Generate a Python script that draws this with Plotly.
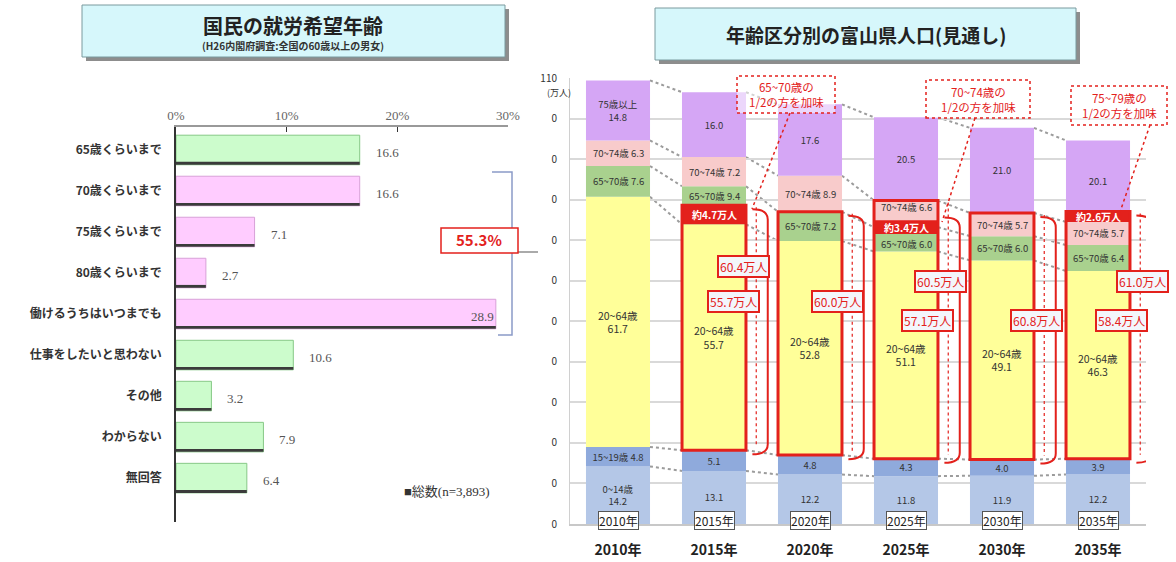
import plotly.graph_objects as go

W, H = 1176, 562

# ---------------- left panel: desired working age (national survey) ----------------
answers = ["65歳くらいまで", "70歳くらいまで", "75歳くらいまで", "80歳くらいまで",
           "働けるうちはいつまでも", "仕事をしたいと思わない", "その他", "わからない", "無回答"]
shares = [16.6, 16.6, 7.1, 2.7, 28.9, 10.6, 3.2, 7.9, 6.4]
pct_ticks = [0, 10, 20, 30]
bracket_total = 55.3
sample_note = "■総数(n=3,893)"

# ---------------- right panel: Toyama population by age group ----------------
years = ["2010年", "2015年", "2020年", "2025年", "2030年", "2035年"]
age_0_14 = [14.2, 13.1, 12.2, 11.8, 11.9, 12.2]
age_15_19 = [4.8, 5.1, 4.8, 4.3, 4.0, 3.9]
age_20_64 = [61.7, 55.7, 52.8, 51.1, 49.1, 46.3]
age_65_69 = [7.6, 9.4, 7.2, 6.0, 6.0, 6.4]
age_70_74 = [6.3, 7.2, 8.9, 6.6, 5.7, 5.7]
age_75_up = [14.8, 16.0, 17.6, 20.5, 21.0, 20.1]

workforce_upper = [None, 60.4, 60.0, 60.5, 60.8, 61.0]
workforce_core = [None, 55.7, None, 57.1, None, 58.4]
half_added = [None, 4.7, None, 3.4, None, 2.6]
callout_groups = ["65~70歳の", "70~74歳の", "75~79歳の"]
y_ticks = list(range(0, 111, 10))

# ---------------- styling ----------------
JP = "Noto Sans CJK JP"
SERIF = "Liberation Serif, Noto Sans CJK JP"
RED = "#e3211c"
GREEN, GREEN_EDGE = "#ccfccc", "#86c886"
PINK, PINK_EDGE = "#ffccff", "#d8a0d8"
answer_colors = [GREEN, PINK, PINK, PINK, PINK, GREEN, GREEN, GREEN, GREEN]
answer_edges = [GREEN_EDGE, PINK_EDGE, PINK_EDGE, PINK_EDGE, PINK_EDGE,
                GREEN_EDGE, GREEN_EDGE, GREEN_EDGE, GREEN_EDGE]
seg_colors = ["#b4c7e7", "#8faadc", "#ffff99", "#a9d18e", "#f8cbcb", "#d5a6f5"]
seg_font = [9.5, 9.5, 10.5, 9.5, 9.5, 9.5]
# segments whose labels are written as annotations (to sit clear of the red bands)
annotated_segments = [3, 4]
# vertical placement of those labels inside their segment (0 = bottom, 1 = top)
label_frac = {(3, 1): 0.75, (3, 3): 0.3, (4, 3): 0.75}
# 2025: outline drawn up to the 70-74 top, added band straddling the 65-70 / 70-74 border
outline_to_level = {3: 5}
band_centered_on_level = {3: 4}


def px(x):
    return x / W


def py(y):
    return 1 - y / H


def paper_text(x, y, text, **font):
    return dict(x=px(x), y=py(y), xref="paper", yref="paper", xanchor="center",
                yanchor="middle", showarrow=False, text=text, font=font)


fig = go.Figure()

# ---- left bars ----
rows = list(range(len(answers)))
fig.add_trace(go.Bar(
    x=shares, y=rows, orientation="h", width=0.72,
    marker=dict(color=answer_colors, line=dict(color=answer_edges, width=1)),
    xaxis="x", yaxis="y", hoverinfo="skip", showlegend=False))
# thin dark base strip of each bar (total series)
fig.add_trace(go.Bar(
    x=shares, y=rows, orientation="h", width=0.07, offset=0.29,
    marker=dict(color="#3b3b3b", line=dict(width=0)),
    xaxis="x", yaxis="y", hoverinfo="skip", showlegend=False))

annotations = []
shapes = []

for i, v in enumerate(shares):
    inside = v > 25
    annotations.append(dict(
        x=v, y=i + 0.05, xref="x", yref="y", text=f"{v:.1f}", yanchor="middle",
        xanchor="right" if inside else "left", xshift=0 if inside else 14,
        showarrow=False, font=dict(family=SERIF, size=13, color="#555")))

# ---- right stacked bars (bases accumulated from the age groups) ----
groups = [age_0_14, age_15_19, age_20_64, age_65_69, age_70_74, age_75_up]
cum = [[0.0] * len(years)]
for g in groups:
    cum.append([c + v for c, v in zip(cum[-1], g)])

labels = []
for k, g in enumerate(groups):
    txt = []
    for i, v in enumerate(g):
        if k == 0:
            txt.append(f"0~14歳<br>{v:.1f}" if i == 0 else f"{v:.1f}")
        elif k == 1:
            txt.append(f"15~19歳 {v:.1f}" if i == 0 else f"{v:.1f}")
        elif k == 2:
            txt.append(f"20~64歳<br>{v:.1f}")
        elif k == 3:
            txt.append(f"65~70歳 {v:.1f}")
        elif k == 4:
            txt.append(f"70~74歳 {v:.1f}")
        else:
            txt.append(f"75歳以上<br>{v:.1f}" if i == 0 else f"{v:.1f}")
    labels.append(txt)

xs = list(range(len(years)))
for k, g in enumerate(groups):
    as_annot = k in annotated_segments
    fig.add_trace(go.Bar(
        x=xs, y=g, base=cum[k], width=0.667,
        marker=dict(color=seg_colors[k], line=dict(width=0)),
        text=None if as_annot else labels[k],
        textposition="inside", insidetextanchor="middle",
        constraintext="none", textangle=0,
        textfont=dict(family=JP, size=seg_font[k], color="#333"),
        xaxis="x2", yaxis="y2", hoverinfo="skip", showlegend=False))
    if as_annot:
        for i, v in enumerate(g):
            frac = label_frac.get((k, i), 0.5)
            annotations.append(dict(x=i, y=cum[k][i] + frac * v, xref="x2", yref="y2",
                                    text=labels[k][i], showarrow=False,
                                    xanchor="center", yanchor="middle",
                                    font=dict(family=JP, size=seg_font[k], color="#333")))

# series lines joining segment tops between neighbouring bars
for k in range(1, len(cum)):
    for i in range(len(years) - 1):
        shapes.append(dict(type="line", xref="x2", yref="y2", layer="below",
                           x0=i + 0.333, y0=cum[k][i], x1=i + 0.667, y1=cum[k][i + 1],
                           line=dict(color="#9c9c9c", width=2, dash="dot")))

# working population outlines, added bands, brackets
for i in range(len(years)):
    if workforce_upper[i] is None:
        continue
    bottom = cum[2][i]
    top = bottom + workforce_upper[i]
    outline_top = cum[outline_to_level[i]][i] if i in outline_to_level else top
    shapes.append(dict(type="line", xref="x2", yref="y2",
                       x0=i + 0.44, x1=i + 0.44, y0=outline_top - 0.5, y1=bottom + 1,
                       line=dict(color=RED, width=1.2, dash="dot")))
    d = 2.5
    x0, x1 = i + 0.40, i + 0.56
    shapes.append(dict(type="path", xref="x2", yref="y2",
                       path=(f"M {x0},{top - 1} Q {x1},{top - 1} {x1},{top - 1 - d} "
                             f"L {x1},{bottom - 1 + d} Q {x1},{bottom - 1} {x0},{bottom - 1}"),
                       line=dict(color=RED, width=2)))
    if half_added[i] is not None:
        if i in band_centered_on_level:
            mid = cum[band_centered_on_level[i]][i]
            b0, b1 = mid - half_added[i] / 2, mid + half_added[i] / 2
        else:
            b0, b1 = top - half_added[i], top
        shapes.append(dict(type="rect", xref="x2", yref="y2",
                           x0=i - 0.333, x1=i + 0.333, y0=b0, y1=b1,
                           fillcolor=RED, line=dict(width=0)))
        annotations.append(dict(x=i, y=(b0 + b1) / 2, xref="x2", yref="y2",
                                text=f"<b>約{half_added[i]:.1f}万人</b>", showarrow=False,
                                font=dict(family=JP, size=10, color="white")))
    shapes.append(dict(type="rect", xref="x2", yref="y2",
                       x0=i - 0.333, x1=i + 0.333, y0=bottom, y1=outline_top,
                       line=dict(color=RED, width=3)))

upper_pos = {1: (1.31, 63.4), 2: (2.29, 55.0), 3: (3.36, 59.7), 4: (4.36, 50.3), 5: (5.46, 59.9)}
core_pos = {1: (1.20, 55.0), 3: (3.22, 50.3), 5: (5.24, 50.3)}


def value_box(x, y, v):
    return dict(x=x, y=y, xref="x2", yref="y2", text=f"{v:.1f}万人", showarrow=False,
                font=dict(family=JP, size=12, color=RED), bgcolor="#f3f6fb",
                bordercolor=RED, borderwidth=2, borderpad=1)


for i, (x, y) in upper_pos.items():
    annotations.append(value_box(x, y, workforce_upper[i]))
for i, (x, y) in core_pos.items():
    annotations.append(value_box(x, y, workforce_core[i]))

# year tags at the foot of each bar
for i, yr in enumerate(years):
    annotations.append(dict(x=i, y=0.9, xref="x2", yref="y2", text=yr, showarrow=False,
                            font=dict(family=JP, size=12, color="#222"), bgcolor="white",
                            bordercolor="#555", borderwidth=1, borderpad=0))

# dotted call-outs
callouts = [((737, 76, 835, 113), (790, 113, 752, 209)),
            ((926, 80, 1030, 118), (975, 118, 942, 222)),
            ((1071, 86, 1167, 125), (1150, 125, 1120, 212))]
for name, (box, lead) in zip(callout_groups, callouts):
    bx0, by0, bx1, by1 = box
    shapes.append(dict(type="rect", xref="paper", yref="paper",
                       x0=px(bx0), x1=px(bx1), y0=py(by1), y1=py(by0),
                       fillcolor="rgba(255,255,255,0.55)",
                       line=dict(color=RED, width=1.5, dash="dot")))
    lx0, ly0, lx1, ly1 = lead
    shapes.append(dict(type="line", xref="paper", yref="paper",
                       x0=px(lx0), y0=py(ly0), x1=px(lx1), y1=py(ly1),
                       line=dict(color=RED, width=1.5, dash="dot")))
    annotations.append(paper_text((bx0 + bx1) / 2, (by0 + by1) / 2,
                                  f"{name}<br>1/2の方を加味",
                                  family=JP, size=11.5, color=RED))

# ---- title boxes ----
for (x0, y0, x1, y1) in [(82, 5, 505, 57), (655, 8, 1076, 60)]:
    shapes.append(dict(type="rect", xref="paper", yref="paper",
                       x0=px(x0 + 4), x1=px(x1 + 4), y0=py(y1 + 4), y1=py(y0 + 4),
                       fillcolor="#8d8d8d", line=dict(width=0)))
    shapes.append(dict(type="rect", xref="paper", yref="paper",
                       x0=px(x0), x1=px(x1), y0=py(y1), y1=py(y0),
                       fillcolor="#d6f7fb", line=dict(color="#7a9a9e", width=1)))
annotations += [
    paper_text(293, 25, "<b>国民の就労希望年齢</b>", family=JP, size=20, color="#222"),
    paper_text(293, 45, "<b>(H26内閣府調査:全国の60歳以上の男女)</b>",
               family=JP, size=10, color="#333"),
    paper_text(866, 34, "<b>年齢区分別の富山県人口(見通し)</b>", family=JP, size=19, color="#222"),
    paper_text(559, 92, "(万人)", family=JP, size=9, color="#333"),
    paper_text(447, 491, sample_note, family=SERIF, size=13, color="#333"),
    paper_text(479, 240, f"<b>{bracket_total:.1f}%</b>", family=JP, size=15, color=RED),
]

# bracket grouping the "keep working" answers
shapes += [
    dict(type="path", xref="paper", yref="paper",
         path=(f"M {px(492)},{py(172)} L {px(512)},{py(172)} "
               f"L {px(512)},{py(335)} L {px(498)},{py(335)}"),
         line=dict(color="#8b9bc8", width=1.5)),
    dict(type="line", xref="paper", yref="paper", x0=px(518), x1=px(538),
         y0=py(252), y1=py(252), line=dict(color="#aaaaaa", width=2)),
    dict(type="rect", xref="paper", yref="paper", x0=px(441), x1=px(518),
         y0=py(253), y1=py(228), fillcolor="white", line=dict(color=RED, width=1.5)),
]

fig.update_layout(
    width=W, height=H, margin=dict(l=0, r=0, t=0, b=0, autoexpand=False),
    paper_bgcolor="white", plot_bgcolor="white", barmode="overlay",
    font=dict(family=JP), showlegend=False,
    xaxis=dict(domain=[px(176), px(508)], range=[0, 30], side="top", anchor="y",
               tickvals=pct_ticks, ticktext=[f"{t}%" for t in pct_ticks],
               showgrid=False, zeroline=False,
               showline=True, linecolor="#999", linewidth=2,
               ticks="inside", ticklen=5, tickcolor="#333",
               tickfont=dict(family=SERIF, size=13, color="#666")),
    yaxis=dict(domain=[py(522), py(127)], range=[9.07, -0.56], anchor="x",
               tickvals=rows, ticktext=answers, showgrid=False, zeroline=False,
               showline=True, linecolor="#333", linewidth=1.5, ticks="",
               ticklabelstandoff=10,
               tickfont=dict(family=JP, size=12, color="#333", weight="bold")),
    xaxis2=dict(domain=[px(570), px(1146)], range=[-0.5, 5.5], anchor="y2",
                tickvals=xs, ticktext=years, showgrid=False, zeroline=False,
                showline=True, linecolor="#c8c8c8", linewidth=1.5, ticks="",
                ticklabelstandoff=12,
                tickfont=dict(family=JP, size=14, color="#222", weight="bold")),
    yaxis2=dict(domain=[py(524), py(78)], range=[0, 110], anchor="x2",
                tickvals=y_ticks, ticktext=["0"] * (len(y_ticks) - 1) + ["110"],
                showgrid=True, gridcolor="#d9d9d9", gridwidth=1.5, zeroline=False,
                showline=True, linecolor="#d0d0d0", linewidth=1, ticks="",
                ticklabelstandoff=10,
                tickfont=dict(family=JP, size=10, color="#333")),
    shapes=shapes, annotations=annotations,
)

fig.write_html("out.html", post_script="document.body.style.margin = '0';")
